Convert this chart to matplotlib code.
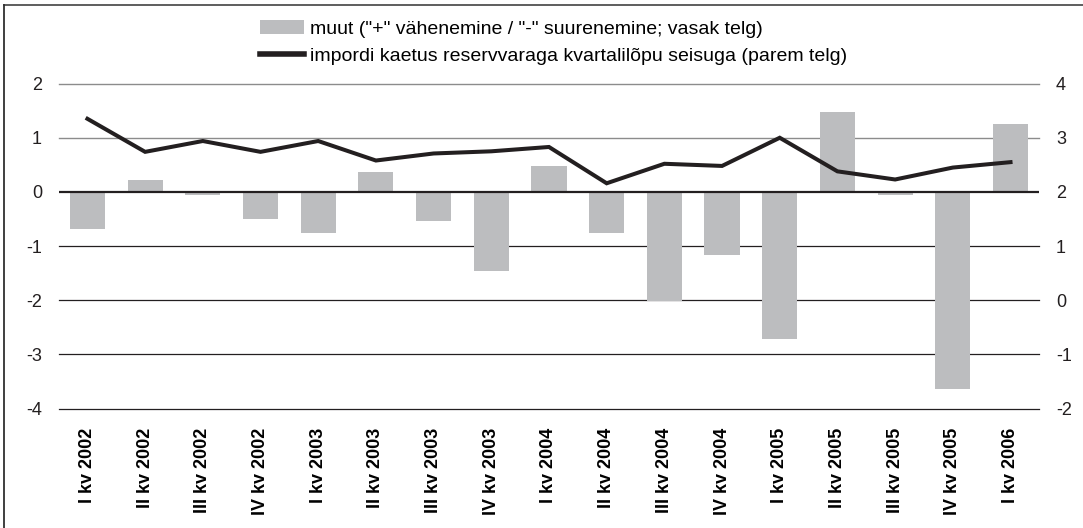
import matplotlib

matplotlib.use("Agg")
import matplotlib.pyplot as plt
from matplotlib.lines import Line2D
from matplotlib.patches import Patch

plt.rcParams["font.family"] = ["Liberation Sans", "DejaVu Sans"]
plt.rcParams["axes.unicode_minus"] = False

quarters = [
    "I kv 2002", "II kv 2002", "III kv 2002", "IV kv 2002",
    "I kv 2003", "II kv 2003", "III kv 2003", "IV kv 2003",
    "I kv 2004", "II kv 2004", "III kv 2004", "IV kv 2004",
    "I kv 2005", "II kv 2005", "III kv 2005", "IV kv 2005",
    "I kv 2006",
]
# change in reserves (left axis)
change = [-0.68, 0.22, -0.05, -0.50, -0.76, 0.36, -0.53, -1.46,
          0.47, -0.76, -2.01, -1.16, -2.71, 1.47, -0.05, -3.63, 1.25]
# import coverage by reserve assets, end of quarter (right axis)
coverage = [3.35, 2.74, 2.94, 2.74, 2.94, 2.58, 2.71, 2.75,
            2.83, 2.16, 2.52, 2.48, 3.00, 2.38, 2.23, 2.45, 2.55]

left_ticks = [-4, -3, -2, -1, 0, 1, 2]
right_ticks = [-2, -1, 0, 1, 2, 3, 4]

BAR = "#bcbdbf"
LINE = "#231f20"

fig = plt.figure(figsize=(10.83, 5.28), dpi=100)
ax = fig.add_axes([0.0541, 0.226, 0.9056, 0.6157])
ax2 = ax.twinx()

x = list(range(len(quarters)))
ax.bar(x, change, width=0.61, color=BAR, zorder=2)
ax2.plot(x, coverage, color=LINE, lw=2.9, solid_joinstyle="miter", zorder=3)

ax.set_xlim(-0.5, len(quarters) - 0.5)
ax.set_ylim(-4, 2)
ax2.set_ylim(-2, 4)
ax.set_yticks(left_ticks)
ax2.set_yticks(right_ticks)

# gridlines: grey above zero, black at and below zero
for t in left_ticks:
    if t > 0:
        ax.axhline(t, color="#8c8c8c", lw=1.0, zorder=1, clip_on=False)
    elif t == 0:
        ax.axhline(t, color=LINE, lw=1.6, zorder=2.5)
    else:
        ax.axhline(t, color=LINE, lw=0.9, zorder=1, clip_on=False)

for a in (ax, ax2):
    for s in a.spines.values():
        s.set_visible(False)
    a.tick_params(axis="y", length=0, labelsize=13, pad=12, colors="#231f20")

ax.set_xticks(x)
ax.set_xticklabels(quarters, rotation=90, fontweight="bold", fontsize=13)
ax.tick_params(axis="x", length=0, pad=14)

handles = [
    Patch(facecolor=BAR, edgecolor="none"),
    Line2D([], [], color=LINE, lw=4),
]
labels = [
    'muut ("+" vähenemine / "-" suurenemine; vasak telg)',
    "impordi kaetus reservvaraga kvartalilõpu seisuga (parem telg)",
]
fig.legend(handles, labels, loc="upper left", bbox_to_anchor=(0.2235, 0.995),
           frameon=False, fontsize=14, handlelength=2.3, handleheight=0.7,
           handletextpad=0.3, labelspacing=0.5)

# outer frame (top and left edges visible)
fig.add_artist(Line2D([4 / 1083, 1], [1 - 5 / 528, 1 - 5 / 528],
                      transform=fig.transFigure, color="#505050", lw=1.3))
fig.add_artist(Line2D([4 / 1083, 4 / 1083], [0, 1 - 5 / 528],
                      transform=fig.transFigure, color="#303030", lw=1.3))

fig.savefig("out.png", dpi=100, facecolor="white")
